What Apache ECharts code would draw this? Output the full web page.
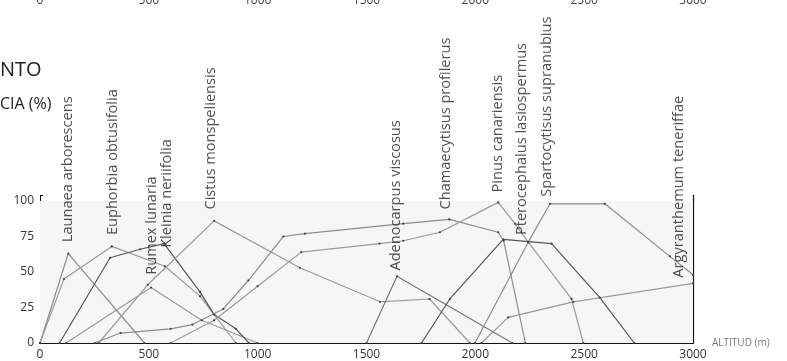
<!DOCTYPE html>
<html><head><meta charset="utf-8">
<script src="https://cdn.jsdelivr.net/npm/echarts@6/dist/echarts.min.js"></script>
<style>html,body{margin:0;padding:0;background:#fff}#c{width:787px;height:361px}</style>
</head><body><div id="c"></div>
<script>
// ---- data ----
const xTicks = [0, 500, 1000, 1500, 2000, 2500, 3000];
const yTicks = [0, 25, 50, 75, 100];
const species = ['Launaea arborescens','Euphorbia obtusifolia','Rumex lunaria','Kleinia neriifolia','Cistus monspeliensis','Adenocarpus viscosus','Chamaecytisus profilerus','Pinus canariensis','Pterocephalus lasiospermus','Spartocytisus supranubius','Argyranthemum teneriffae'];
const launaea = [[0,0],[130,63],[480,0]];
const euphorbia = [[0,0],[110,45],[330,68],[574,54],[735,33],[900,0]];
const rumex = [[120,0],[510,39],[743,16],[1000,0]];
const kleinia = [[90,0],[322,60],[460,66],[570,70],[735,36],[800,20],[900,10],[960,0]];
const cistus = [[270,0],[495,41],[800,86],[1194,53],[1562,29],[1790,31],[1975,0]];
const adenocarpus = [[1500,0],[1640,47],[2170,0]];
const chamaecytisus = [[250,0],[370,7],[600,10],[700,13],[842,24],[957,44],[1118,75],[1217,77],[1669,84],[1880,87],[2105,78],[2130,72],[2230,0]];
const pinus = [[600,0],[800,16],[1000,40],[1200,64],[1560,70],[1669,72],[1837,78],[2105,99],[2182,84],[2243,71],[2442,31],[2496,0]];
const pterocephalus = [[1753,0],[1883,31],[2128,73],[2350,70],[2572,32],[2730,0]];
const spartocytisus = [[1998,0],[2243,71],[2343,98],[2595,98],[2894,61],[3000,48]];
const argyranthemum = [[2028,0],[2151,18],[2450,29],[3000,42]];
const labelAnchors = [[128,71],[335,76],[514,48],[583,67],[786,94],[1635,51],[1865,94],[2104,106],[2214,76],[2329,103],[2936,46]];
const lineColors = ['#8c8c8c','#9a9a9a','#9a9a9a','#555','#9a9a9a','#777','#8c8c8c','#9a9a9a','#555','#8c8c8c','#9a9a9a'];

const seriesData = [launaea, euphorbia, rumex, kleinia, cistus, adenocarpus, chamaecytisus, pinus, pterocephalus, spartocytisus, argyranthemum];
const FONT = '"Open Sans", "Noto Sans", sans-serif';

const chart = echarts.init(document.getElementById('c'), null, {renderer:'canvas'});
const lineSeries = seriesData.map((d, i) => ({
  type: 'line', name: species[i], data: d, xAxisIndex: 0, yAxisIndex: 0,
  showSymbol: true, symbol: 'circle', symbolSize: 2.2, itemStyle: {color: '#444'},
  silent: true, animation: false,
  lineStyle: {color: lineColors[i], width: 1.2}, z: 3
}));
lineSeries[0].markArea = {silent: true, itemStyle: {color: '#f6f6f6'}, data: [[{coord: [0, 0]}, {coord: [3000, 100]}]]};

const option = {
  animation: false,
  textStyle: {fontFamily: FONT},
  grid: [
    {left: 40, right: 94, top: 195.3, bottom: 18},
    {left: 40, right: 94, top: -20, height: 10}
  ],
  xAxis: [
    {type: 'value', gridIndex: 0, min: 0, max: 3000, interval: 250,
     axisLine: {lineStyle: {color: '#111', width: 2}},
     axisTick: {inside: true, length: 4, lineStyle: {color: '#111'}},
     splitLine: {show: false},
     axisLabel: {fontSize: 12, color: '#333', margin: 6, fontFamily: FONT,
       formatter: v => xTicks.includes(v) ? String(v) : ''},
     name: 'ALTITUD (m)', nameLocation: 'end', nameGap: 19,
     nameTextStyle: {fontSize: 10, color: '#777', verticalAlign: 'middle', fontFamily: FONT}},
    {type: 'value', gridIndex: 1, min: 0, max: 3000, interval: 500,
     axisLine: {show: false}, axisTick: {show: false}, splitLine: {show: false},
     axisLabel: {fontSize: 12, color: '#444', margin: 2, fontFamily: FONT, formatter: v => String(v)}}
  ],
  yAxis: [
    {type: 'value', gridIndex: 0, min: 0, max: 104, interval: 25,
     axisLine: {show: true, lineStyle: {color: '#111', width: 1}},
     axisTick: {show: true, inside: true, length: 3, lineStyle: {color: '#111'}},
     splitLine: {show: false},
     axisLabel: {fontSize: 12, color: '#333', margin: 6, fontFamily: FONT,
       formatter: v => yTicks.includes(v) ? String(v) : ''}},
    {type: 'value', gridIndex: 0, min: 0, max: 104, position: 'right',
     axisLine: {show: true, lineStyle: {color: '#111', width: 1.2}},
     axisTick: {show: false}, axisLabel: {show: false}, splitLine: {show: false}},
    {type: 'value', gridIndex: 1, show: false}
  ],
  series: [
    ...lineSeries,
    {type: 'scatter', xAxisIndex: 0, yAxisIndex: 0, symbolSize: 0, silent: true, clip: false, z: 5,
     data: labelAnchors.map((p, i) => ({value: p, name: species[i]})),
     label: {show: true, position: [0, 0], rotate: 90, align: 'left', verticalAlign: 'middle',
       fontSize: 14.6, color: '#222', fontFamily: FONT, formatter: p => p.name}},
    {type: 'scatter', xAxisIndex: 1, yAxisIndex: 2, data: [], silent: true}
  ],
  graphic: [
    {type: 'text', left: 0, top: 60, style: {text: 'NTO', fontSize: 20, fill: '#222', fontFamily: FONT}},
    {type: 'text', left: 0, top: 96, style: {text: 'CIA (%)', fontSize: 16, fill: '#222', fontFamily: FONT}}
  ]
};
chart.setOption(option);
</script></body></html>
